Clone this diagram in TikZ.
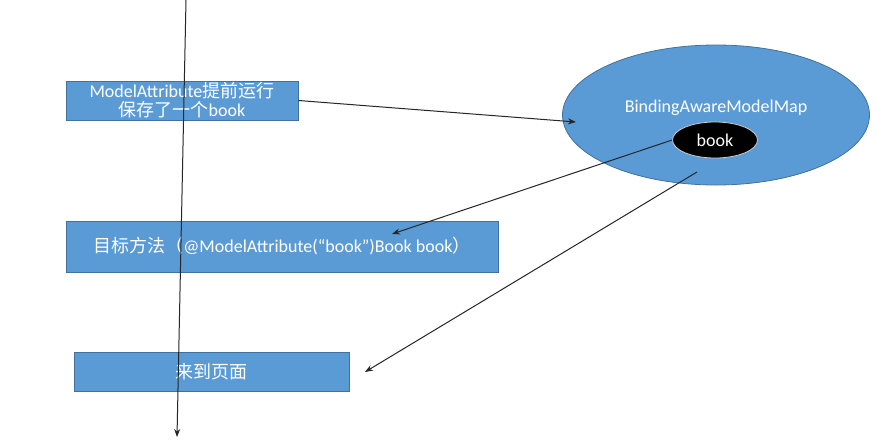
\documentclass[tikz,border=0pt]{standalone}
\usepackage{fontspec}
\setmainfont{Carlito}
\newfontfamily\cjk{Noto Sans CJK SC}
\usetikzlibrary{shapes.geometric,arrows.meta}
\definecolor{boxblue}{HTML}{5B9BD5}
\definecolor{boxedge}{HTML}{41719C}
\tikzset{
  bluebox/.style={draw=boxedge, fill=boxblue, line width=0.8pt, text=white, inner sep=0pt, align=center, font=\fontsize{18}{21}\selectfont},
  conn/.style={draw=black!85, line width=1pt, -{Stealth[length=8pt,width=6pt]}},
}
\begin{document}
\begin{tikzpicture}[x=1pt,y=1pt]
\useasboundingbox (0,0) rectangle (885,-442);
\fill[white] (0,0) rectangle (885,-442);
% boxes
\node[bluebox, minimum width=232, minimum height=39] (b1) at (182,-100.5)
  {ModelAttribute{\cjk 提前运行}\\[-2pt]{\cjk 保存了一个}book};
\node[bluebox, minimum width=432, minimum height=51] (b2) at (282,-246.5)
  {{\cjk 目标方法（}@ModelAttribute(“book”)Book book{\cjk ）}};
\node[bluebox, minimum width=275, minimum height=39] (b3) at (211.5,-371.5)
  {{\cjk 来到页面}};
% ellipse
\node[ellipse, draw=boxedge, fill=boxblue, line width=0.8pt, minimum width=307, minimum height=140] (map) at (716,-115) {};
\node[text=white, font=\fontsize{18}{21}\selectfont] (maplbl) at (716,-108) {BindingAwareModelMap};
\node[ellipse, draw=black!20, fill=black, line width=0.8pt, minimum width=85, minimum height=36, text=white, font=\fontsize{18}{21}\selectfont, inner sep=0pt] (book) at (715,-140) {book};
% vertical flow line
\coordinate (vtop) at (186,0);
\coordinate (vbot) at (177,-437);
\draw[conn] (vtop) -- (vbot);
% connectors
\coordinate (a1) at (576,-122);
\coordinate (a2) at (392,-234);
\coordinate (s3) at (697,-172);
\coordinate (a3) at (365,-372);
\draw[conn] (b1.east) -- (a1);
\draw[conn] (book.west) -- (a2);
\draw[conn] (s3) -- (a3);
\end{tikzpicture}
\end{document}
